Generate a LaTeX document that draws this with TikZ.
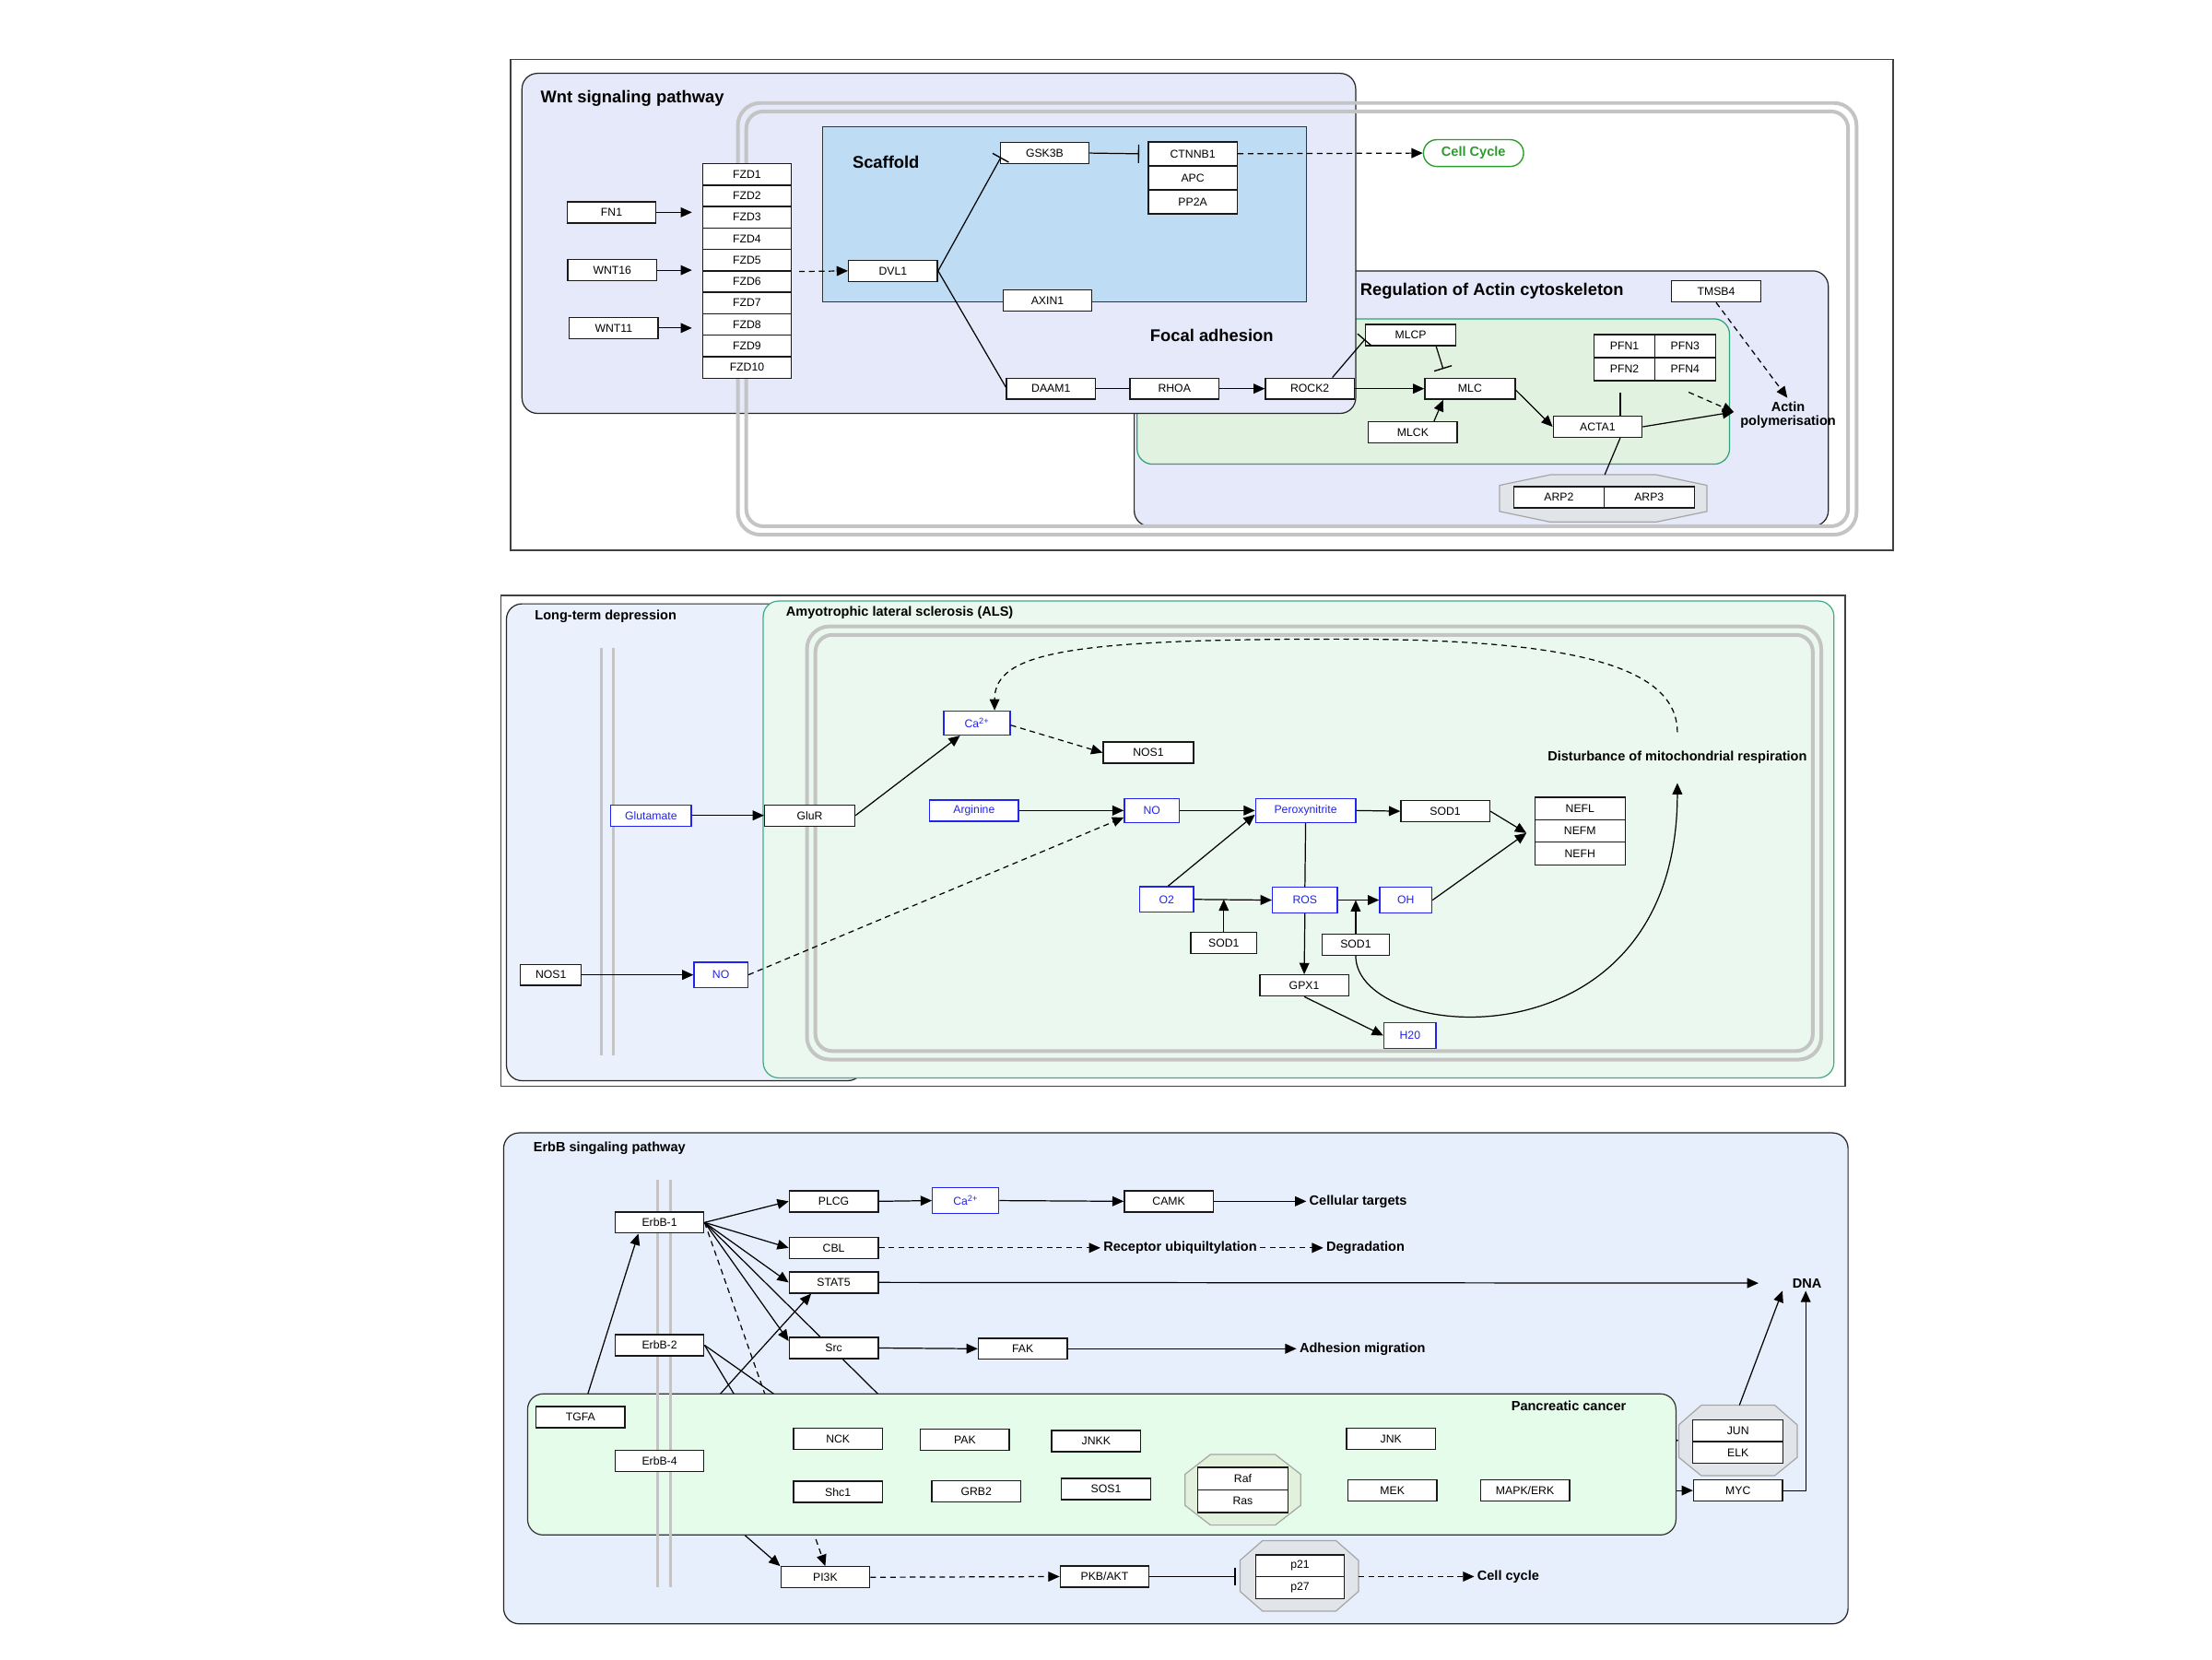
\documentclass[tikz,border=0pt]{standalone}
\usepackage{fontspec}
\setmainfont{Liberation Sans}
\usetikzlibrary{arrows.meta,calc}
\pgfdeclarelayer{bg}
\pgfdeclarelayer{hid}
\pgfdeclarelayer{panc}
\pgfsetlayers{bg,hid,panc,main}
\definecolor{lav}{HTML}{E6E9F9}
\definecolor{scaf}{HTML}{BEDCF3}
\definecolor{actgreen}{HTML}{E2F2E0}
\definecolor{tealb}{HTML}{2EA27A}
\definecolor{alsfill}{HTML}{EBF8EF}
\definecolor{ltdfill}{HTML}{EAF1FD}
\definecolor{erbfill}{HTML}{E8EFFC}
\definecolor{pancfill}{HTML}{E5FCEB}
\definecolor{octgray}{HTML}{E1E5EA}
\definecolor{octgreen}{HTML}{E1F1DC}
\definecolor{memgray}{HTML}{C4C4C4}
\definecolor{nblue}{HTML}{2323EE}
\definecolor{ccgreen}{HTML}{2E9B2E}
\tikzset{
  box/.style={draw=black!90, fill=white, line width=0.9pt, minimum width=63pt, minimum height=15pt, inner sep=1pt, font=\fontsize{8}{9}\selectfont},
  bbox/.style={box, draw=nblue, text=nblue, minimum height=17pt},
  grp/.style={draw=black!85, line width=0.8pt, rounded corners=11pt},
  membr/.style={draw=memgray, line width=2.6pt},
  ttl/.style={font=\bfseries\fontsize{12}{14}\selectfont, inner sep=0pt},
  stl/.style={font=\bfseries\fontsize{9.5}{11}\selectfont, inner sep=2pt, align=center},
  ln/.style={line width=0.8pt},
  arr/.style={ln, -{Triangle[length=8pt,width=7pt]}},
  darr/.style={arr, dash pattern=on 4pt off 3pt},
  inh/.style={ln, -{Bar[width=13pt,line width=0.9pt]}},
  oct/.style={fill=octgray, draw=black!35, line width=0.8pt},
}
\begin{document}
\begin{tikzpicture}[x=1pt,y=-1pt]
\begin{pgfonlayer}{bg}
\useasboundingbox (0,0) rectangle (1568,1176);
\fill[white] (0,0) rectangle (1568,1176);
\end{pgfonlayer}

%%%%%%%%%%%%%%%% PANEL 1
\draw[line width=0.8pt, draw=black!75] (362,42) rectangle (1342,390);
\draw[grp, fill=lav] (804,192) rectangle (1296,373);
\draw[draw=tealb, line width=0.8pt, rounded corners=11pt, fill=actgreen] (806,226) rectangle (1226,329);
\draw[grp, fill=lav] (370,52) rectangle (961,293);
\draw[membr, rounded corners=16pt] (523,73) rectangle (1316,379);
\draw[membr, rounded corners=12pt] (529,79) rectangle (1310,373);
\draw[draw=black!80, line width=0.8pt, fill=scaf] (583,90) rectangle (926,214);

\node[ttl, anchor=west] (twnt) at (383,70) {Wnt signaling pathway};
\node[ttl] (tscaf) at (628,115) {Scaffold};
\node[ttl] (tfocal) at (859,237.5) {Focal adhesion};
\node[ttl, anchor=west] (tact) at (964,206) {Regulation of Actin cytoskeleton};

\node[box] (FN1) at (433.5,150.5) {FN1};
\node[box] (WNT16) at (434,191.5) {WNT16};
\node[box] (WNT11) at (435,232.5) {WNT11};
\foreach \i/\yy in {1/123.6,2/138.8,3/154,4/169.2,5/184.4,6/199.6,7/214.8,8/230,9/245.2,10/260.4}
  \node[box, minimum height=15.2pt] (FZD\i) at (529.5,\yy) {FZD\i};
\node[box] (DVL1) at (633,192) {DVL1};
\node[box] (GSK3B) at (740.5,108.5) {GSK3B};
\node[box, minimum height=17pt] (CTNNB1) at (845.5,109) {CTNNB1};
\node[box, minimum height=17pt] (APC) at (845.5,126) {APC};
\node[box, minimum height=17pt] (PP2A) at (845.5,143) {PP2A};
\node[box] (AXIN1) at (742.5,213) {AXIN1};
\node[box] (DAAM1) at (745,275.5) {DAAM1};
\node[box] (RHOA) at (832.5,275.5) {RHOA};
\node[box] (ROCK2) at (928.5,275.5) {ROCK2};
\node[box, minimum width=64pt] (MLCP) at (1000,237.5) {MLCP};
\node[box, minimum width=64pt] (MLC) at (1042,275.5) {MLC};
\node[box] (MLCK) at (1001.5,306.5) {MLCK};
\node[box] (ACTA1) at (1132.5,302.5) {ACTA1};
\node[box] (TMSB4) at (1216.5,206.5) {TMSB4};
\node[box, minimum width=43pt, minimum height=16.4pt] (PFN1) at (1151.5,245.3) {PFN1};
\node[box, minimum width=43pt, minimum height=16.4pt] (PFN3) at (1194.5,245.3) {PFN3};
\node[box, minimum width=43pt, minimum height=16.4pt] (PFN2) at (1151.5,261.7) {PFN2};
\node[box, minimum width=43pt, minimum height=16.4pt] (PFN4) at (1194.5,261.7) {PFN4};
\draw[oct] (1063,344)--(1099,336.5)--(1174,336.5)--(1210,344)--(1210,362.5)--(1174,370)--(1099,370)--(1063,362.5)--cycle;
\coordinate (arpTop) at (1137.5,336.5);
\node[box, minimum width=64pt] (ARP2) at (1105,352.5) {ARP2};
\node[box, minimum width=64pt] (ARP3) at (1169,352.5) {ARP3};
\node[draw=ccgreen, line width=0.9pt, fill=white, rounded corners=9.5pt, minimum width=71pt, minimum height=19pt, inner sep=1pt, text=ccgreen, font=\bfseries\fontsize{9.5}{11}\selectfont] (CC) at (1044.5,108.5) {Cell Cycle};
\node[stl, inner sep=0pt] (AP) at (1267.5,294) {Actin\\[-1.5pt]polymerisation};

\coordinate (apIn) at (1229,292);
\coordinate (apTop) at (1267,282);
\coordinate (pfnDash) at (1197,278);
\coordinate (pfnLine) at (1148.5,278);

\draw[arr] (FN1.east) -- (FN1.east -| 490.5,0);
\draw[arr] (WNT16.east) -- (WNT16.east -| 490.5,0);
\draw[arr] (WNT11.east) -- (WNT11.east -| 490.5,0);
\draw[darr] ($(FZD5.south east)+(5,0)$) -- (DVL1.west);
\draw[inh] (DVL1.east) -- ($(GSK3B.south west)+(1,-5)$);
\draw[ln] (DVL1.east) -- ($(DAAM1.west)+(0,-1)$);
\draw[inh] (GSK3B.east) -- ($(CTNNB1.west)+(-6,0)$);
\draw[darr] (CTNNB1.east) -- (CC.west);
\draw[ln] (DAAM1.east) -- (RHOA.west);
\draw[arr] (RHOA.east) -- (ROCK2.west);
\draw[arr] (ROCK2.east) -- (MLC.west);
\draw[inh] ($(ROCK2.north)+(16,0)$) -- ($(MLCP.west)+(0,3)$);
\draw[inh] ($(MLCP.south)+(18,0)$) -- ($(MLC.north)+(-19,-6)$);
\draw[arr] ($(MLCK.north)+(15,0)$) -- ($(MLC.south)+(-19,0)$);
\draw[arr] ($(MLC.east)+(0,1)$) -- (ACTA1.west);
\draw[arr] (ACTA1.east) -- (apIn);
\draw[darr] (pfnDash) -- (apIn);
\draw[ln] (pfnLine) -- (pfnLine |- ACTA1.north);
\draw[ln] ($(ACTA1.south)+(16,0)$) -- (arpTop);
\draw[darr] (TMSB4.south) -- (apTop);

%%%%%%%%%%%%%%%% PANEL 2
\draw[line width=0.8pt, draw=black!75] (355,422) rectangle (1308,770);
\draw[grp, fill=ltdfill] (359,428) rectangle (612,766);
\draw[draw=tealb!90, line width=0.8pt, rounded corners=11pt, fill=alsfill] (541,426) rectangle (1300,764);
\draw[membr, rounded corners=16pt] (572,444) rectangle (1291,751);
\draw[membr, rounded corners=12pt] (578,450) rectangle (1285,745);
\draw[draw=memgray, line width=2pt] (426,459) -- (426,748);
\draw[draw=memgray, line width=2pt] (435,459) -- (435,748);
\node[stl, anchor=west, inner sep=0pt] (tltd) at (379,437) {Long-term depression};
\node[stl, anchor=west, inner sep=0pt] (tals) at (557,434) {Amyotrophic lateral sclerosis (ALS)};

\node[box, minimum width=43pt] (NOSL) at (390.5,691) {NOS1};
\node[bbox, minimum width=38pt, minimum height=18pt] (NOL) at (511,691) {NO};
\node[bbox, minimum width=57pt, minimum height=15pt] (GLU) at (461.5,578) {Glutamate};
\node[box, minimum width=64pt] (GLUR) at (574,578) {GluR};
\node[bbox, minimum width=47pt] (CA) at (692.5,512.5) {Ca\textsuperscript{2+}};
\node[box, minimum width=64pt] (NOSR) at (814,533.5) {NOS1};
\node[bbox, minimum height=15pt] (ARG) at (690.5,574.5) {Arginine};
\node[bbox, minimum width=39pt] (NO) at (816.5,574.5) {NO};
\node[bbox, minimum width=71pt] (PER) at (925.5,574.5) {Peroxynitrite};
\node[box] (SODA) at (1024.5,575) {SOD1};
\node[box, minimum width=64pt, minimum height=16pt] (NEFL) at (1120,573) {NEFL};
\node[box, minimum width=64pt, minimum height=16pt] (NEFM) at (1120,589) {NEFM};
\node[box, minimum width=64pt, minimum height=16pt] (NEFH) at (1120,605) {NEFH};
\node[bbox, minimum width=38pt, minimum height=18pt] (O2) at (827,637.5) {O2};
\node[bbox, minimum width=46pt, minimum height=18pt] (ROS) at (925,638) {ROS};
\node[bbox, minimum width=37pt, minimum height=18pt] (OH) at (996.5,638) {OH};
\node[box, minimum width=47pt] (SODB) at (867.5,668.5) {SOD1};
\node[box, minimum width=48pt] (SODC) at (961,669.5) {SOD1};
\node[box] (GPX) at (924.5,698.5) {GPX1};
\node[bbox, minimum width=37pt, minimum height=18pt] (H2O) at (999.5,734) {H20};
\node[stl] (DIST) at (1189,537) {Disturbance of mitochondrial respiration};
\coordinate (distTop) at (1189,519);
\coordinate (distBot) at (1189,555);
\coordinate (nefIn) at (1082,590.5);

\draw[arr] (NOSL.east) -- (NOL.west);
\draw[arr] (GLU.east) -- (GLUR.west);
\draw[arr] (GLUR.east) -- ($(CA.south)+(-12,0)$);
\draw[darr] ($(CA.east)+(0,1.5)$) -- (NOSR.west);
\draw[darr] (NOL.east) -- ($(NO.south west)+(0,-4)$);
\draw[arr] (ARG.east) -- (NO.west);
\draw[arr] (NO.east) -- (PER.west);
\draw[arr] ($(O2.north)+(1,0)$) -- ($(PER.south west)+(0,-6)$);
\draw[arr] (O2.east) -- (ROS.west);
\draw[arr] (SODB.north) -- (SODB.north |- O2.east);
\draw[ln] (PER.south) -- (ROS.north);
\draw[arr] (ROS.east) -- (OH.west);
\draw[arr] (SODC.north) -- (SODC.north |- ROS.east);
\draw[arr] (ROS.south) -- (GPX.north);
\draw[arr] (GPX.south) -- (H2O.west);
\draw[arr] (PER.east) -- (SODA.west);
\draw[arr] (SODA.east) -- (nefIn);
\draw[arr] (OH.east) -- (nefIn);
\draw[arr] (SODC.south) .. controls (961,740) and (1189,760) .. (distBot);
\draw[darr] (distTop) .. controls (1189,468) and (1100,453) .. (950,453) .. controls (760,453) and (705,462) .. (CA.north -| 705,0);

%%%%%%%%%%%%%%%% PANEL 3
\begin{pgfonlayer}{bg}
\draw[grp, fill=erbfill] (357,803) rectangle (1310,1151);
\end{pgfonlayer}
\begin{pgfonlayer}{panc}
\draw[draw=black!80, line width=0.8pt, rounded corners=11pt, fill=pancfill] (374,988) rectangle (1188,1088);
\draw[draw=memgray, line width=2pt] (466,836) -- (466,1125);
\draw[draw=memgray, line width=2pt] (475,836) -- (475,1125);
\end{pgfonlayer}
\node[stl, anchor=west, inner sep=0pt] (terb) at (378,814) {ErbB singaling pathway};
\node[stl, inner sep=0pt] (tpanc) at (1112,996.5) {Pancreatic cancer};

\draw[oct] (1206,996)--(1258,996)--(1274,1010)--(1274,1033)--(1258,1046)--(1206,1046)--(1190,1033)--(1190,1010)--cycle;
\draw[oct] (895,1092)--(947,1092)--(963,1106)--(963,1128)--(947,1142)--(895,1142)--(879,1128)--(879,1106)--cycle;
\draw[oct, fill=octgreen] (858,1031)--(904,1031)--(922,1045)--(922,1067)--(904,1081)--(858,1081)--(840,1067)--(840,1045)--cycle;
\coordinate (junTop) at (1233,996);
\coordinate (junW) at (1190,1021);
\coordinate (pW) at (879,1117.5);
\coordinate (pE) at (963,1117.5);

\node[box] (ERB1) at (467.5,866.5) {ErbB-1};
\node[box] (ERB2) at (467.5,953.5) {ErbB-2};
\node[box] (ERB4) at (467.5,1035.5) {ErbB-4};
\node[box] (TGFA) at (411.5,1004.5) {TGFA};
\node[box] (PLCG) at (591,851.5) {PLCG};
\node[box] (CBL) at (591,884.5) {CBL};
\node[box] (STAT5) at (591,909) {STAT5};
\node[box] (SRC) at (591,955.5) {Src};
\node[box] (FAK) at (725,956) {FAK};
\node[bbox, minimum width=47pt, minimum height=18pt] (CA3) at (684.5,851) {Ca\textsuperscript{2+}};
\node[box] (CAMK) at (828.5,851.5) {CAMK};
\node[box] (NCK) at (594,1020) {NCK};
\node[box] (PAK) at (684,1020.5) {PAK};
\node[box] (JNKK) at (777,1021.5) {JNKK};
\node[box] (JNK) at (986,1020) {JNK};
\node[box] (SHC) at (594,1057.5) {Shc1};
\node[box] (GRB) at (692,1057) {GRB2};
\node[box] (SOS) at (784,1055.5) {SOS1};
\node[box, minimum width=64pt, minimum height=16pt] (RAF) at (881,1048) {Raf};
\node[box, minimum width=64pt, minimum height=16pt] (RAS) at (881,1064) {Ras};
\node[box] (MEK) at (987,1056.5) {MEK};
\node[box] (MAPK) at (1081,1056.5) {MAPK/ERK};
\node[box, minimum width=64pt, minimum height=15.5pt] (JUN) at (1232,1014) {JUN};
\node[box, minimum width=64pt, minimum height=15.5pt] (ELK) at (1232,1029.5) {ELK};
\node[box] (MYC) at (1232,1056.5) {MYC};
\node[box] (PI3K) at (585,1118) {PI3K};
\node[box] (PKB) at (783,1117.5) {PKB/AKT};
\node[box, minimum height=15.5pt] (P21) at (921.5,1109.8) {p21};
\node[box, minimum height=15.5pt] (P27) at (921.5,1125.3) {p27};

\node[stl, anchor=west] (CT) at (926,851.5) {Cellular targets};
\node[stl, anchor=west] (RU) at (780,884.5) {Receptor ubiquiltylation};
\node[stl, anchor=west] (DEG) at (938,884.5) {Degradation};
\node[stl] (DNA) at (1281,909.5) {DNA};
\node[stl, anchor=west] (AM) at (919,956) {Adhesion migration};
\node[stl, anchor=west] (CCY) at (1045,1117.5) {Cell cycle};

% edges partly hidden behind the Pancreatic cancer box
\begin{pgfonlayer}{hid}
\draw[ln] (ERB1.east) -- (GRB.center);
\draw[ln] (ERB2.east) -- (NCK.center);
\draw[ln] (ERB2.east) -- (SHC.west);
\draw[darr] (ERB1.east) -- (PI3K.north);
\draw[arr] (ERB4.center) -- (PI3K.north west);
\draw[arr] (ERB4.center) -- ($(STAT5.south)+(-16,0)$);
\draw[arr] (TGFA.center) -- ($(ERB1.south)+(-15,0)$);
\draw[arr] (JNK.center) -- (junW);
\draw[arr] (MAPK.center) -- (MYC.west);
\end{pgfonlayer}

\draw[arr] (ERB1.east) -- (PLCG.west);
\draw[arr] (ERB1.east) -- (CBL.west);
\draw[arr] (ERB1.east) -- (STAT5.west);
\draw[arr] (ERB1.east) -- ($(SRC.north west)+(0,3)$);
\draw[arr] (PLCG.east) -- (CA3.west);
\draw[arr] (CA3.east) -- (CAMK.west);
\draw[arr] (CAMK.east) -- (CT.west);
\draw[darr] (CBL.east) -- (RU.west);
\draw[darr] (RU.east) -- (DEG.west);
\draw[arr] (STAT5.east) -- ($(DNA.west)+(-22,0)$);
\draw[arr] (SRC.east) -- (FAK.west);
\draw[arr] (FAK.east) -- (AM.west);
\draw[arr] (junTop) -- ($(DNA.south west)+(-5,0)$);
\draw[arr] (MYC.east) -| ($(DNA.south)+(-1,0)$);
\draw[darr] (PI3K.east) -- (PKB.west);
\draw[inh] (PKB.east) -- ($(pW)+(-3,0)$);
\draw[darr] (pE) -- (CCY.west);
\end{tikzpicture}
\end{document}
